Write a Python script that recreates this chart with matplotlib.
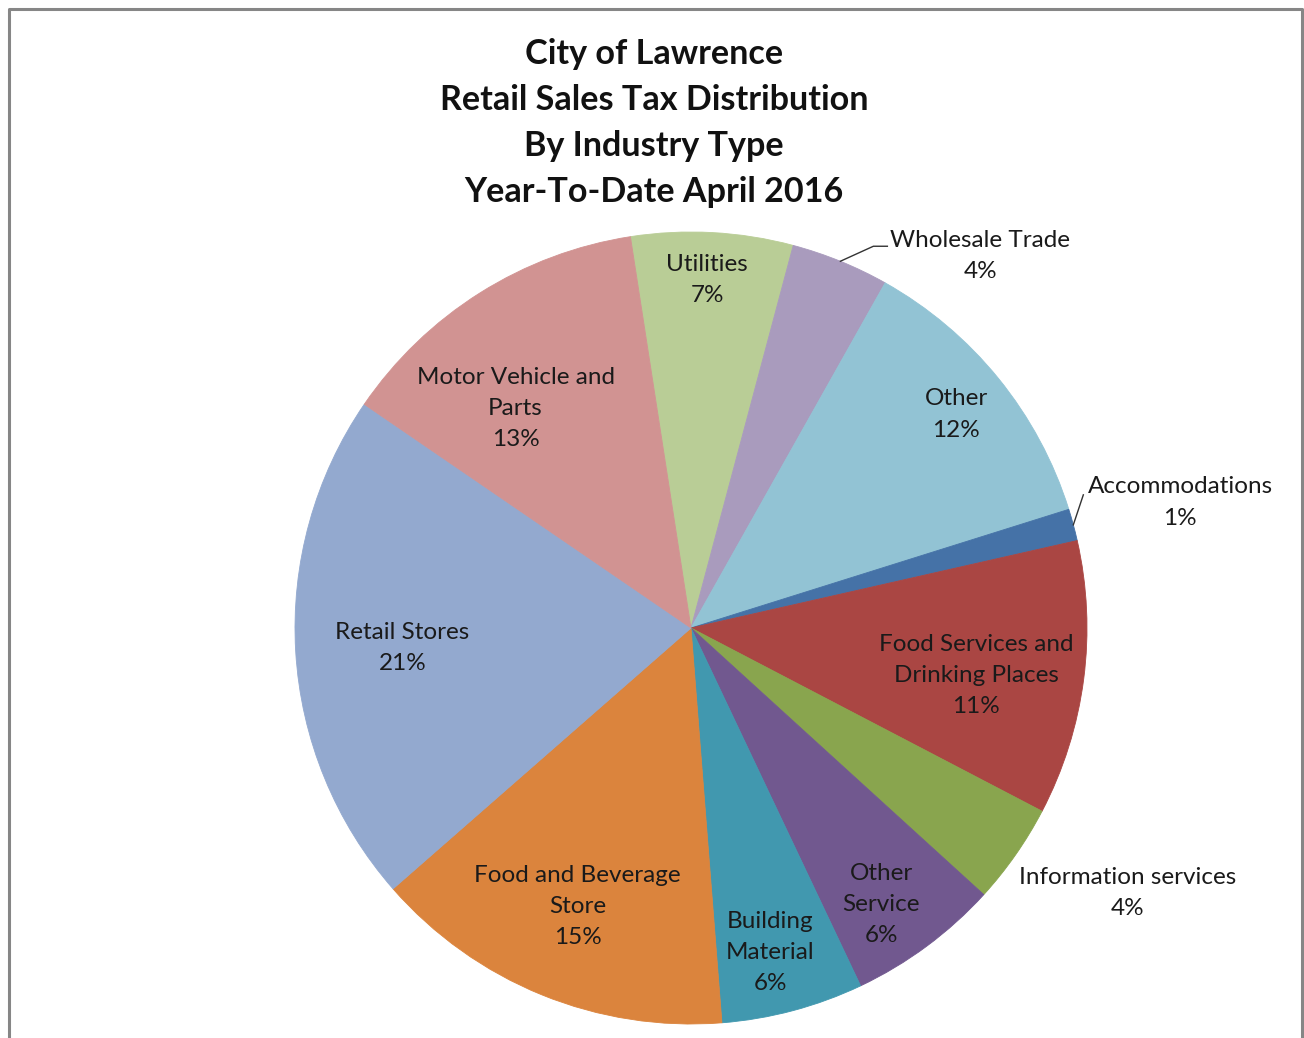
import numpy as np
import matplotlib
matplotlib.use("Agg")
import matplotlib.pyplot as plt

plt.rcParams['font.family'] = ['Lato', 'DejaVu Sans']

# data: shares of retail sales tax by industry (percent), clockwise from top
industries = ["Utilities", "Wholesale Trade", "Other", "Accommodations",
              "Food Services and\nDrinking Places", "Information services",
              "Other\nService", "Building\nMaterial", "Food and Beverage\nStore",
              "Retail Stores", "Motor Vehicle and\nParts"]
shares = [6.6, 4.0, 12.0, 1.3, 11.2, 4.1, 6.2, 5.8, 14.8, 21.0, 13.0]
colors = ["#B9CD96", "#A99BBD", "#92C3D4", "#4572A7", "#AA4643", "#89A54E",
          "#71588F", "#4198AF", "#DB843D", "#93A9CF", "#D19392"]

# label placement (radius as fraction of pie radius, angle shift in degrees)
lab_r = [0.88, 1.19, 0.86, 1.275, 0.73, 1.29, 0.847, 0.843, 0.76, 0.73, 0.71]
lab_da = [0.4, -15.7, -0.2, -0.7, -2.0, 3.7, -2.0, -1.2, 0.0, 0.6, 6.4]

W, H = 1304, 1038
fig = plt.figure(figsize=(W / 100, H / 100), dpi=100)

# border of the chart area
fig.add_artist(plt.Line2D([8.5 / W, 8.5 / W, 1301.5 / W, 1301.5 / W],
                          [0, 1 - 8.5 / H, 1 - 8.5 / H, 0],
                          color="#868686", lw=2.2))

cx, cy, R = 691, 628, 396
ax = fig.add_axes([(cx - R) / W, (H - cy - R) / H, 2 * R / W, 2 * R / H])

wedges, _ = ax.pie(shares, colors=colors, startangle=98.8, counterclock=False,
                   radius=1, frame=True)
ax.set_xlim(-1, 1)
ax.set_ylim(-1, 1)
ax.axis("off")
for w in wedges:
    w.set_edgecolor(w.get_facecolor())
    w.set_linewidth(0.6)

for i, w in enumerate(wedges):
    mid = (w.theta1 + w.theta2) / 2
    ang = np.deg2rad(mid + lab_da[i])
    tx, ty = lab_r[i] * np.cos(ang), lab_r[i] * np.sin(ang)
    txt = "%s\n%d%%" % (industries[i], round(shares[i]))
    ax.text(tx, ty, txt, ha="center", va="center", fontsize=17.5,
            color="#1a1a1a", linespacing=1.6)

# leader lines for the outside labels
m = np.deg2rad((wedges[1].theta1 + wedges[1].theta2) / 2)
ex, ey = np.cos(m), np.sin(m)
ax.plot([ex, ex + 33 / R, ex + 47 / R], [ey, ey + 15 / R, ey + 15 / R],
        color="#333333", lw=1)
m = np.deg2rad((wedges[3].theta1 + wedges[3].theta2) / 2)
ex, ey = np.cos(m), np.sin(m)
ax.plot([ex, ex + 10 / R], [ey, ey + 30 / R], color="#333333", lw=1)

fig.text(654 / W, 1 - 123 / H,
         "City of Lawrence\nRetail Sales Tax Distribution\nBy Industry Type\nYear-To-Date April 2016",
         ha="center", va="center", fontsize=24.6, fontweight="bold",
         linespacing=1.53, color="#111111")

fig.savefig("out.png", dpi=100)
